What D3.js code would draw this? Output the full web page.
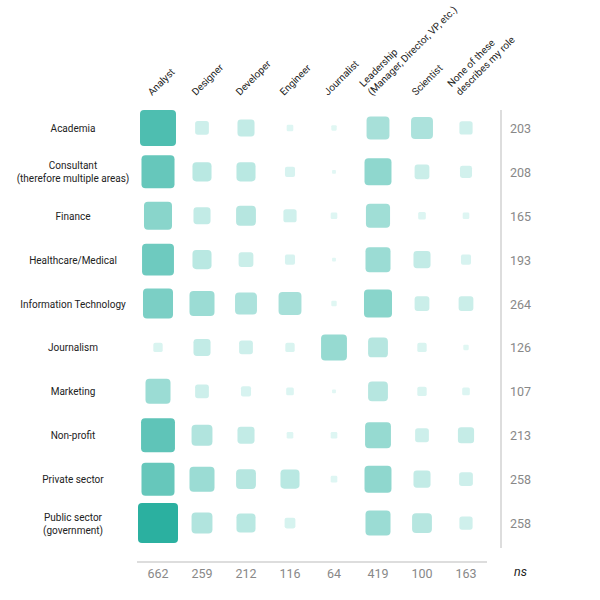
<!DOCTYPE html>
<html><head><meta charset="utf-8">
<script src="https://cdn.jsdelivr.net/npm/d3@7"></script>
<style>body{margin:0;background:#fff;font-family:Roboto,sans-serif}</style>
</head><body>
<svg width="600" height="600"></svg>
<script>
var sectors = ["Academia", "Consultant\n(therefore multiple areas)", "Finance", "Healthcare/Medical",
  "Information Technology", "Journalism", "Marketing", "Non-profit", "Private sector", "Public sector\n(government)"];
var roles = ["Analyst", "Designer", "Developer", "Engineer", "Journalist",
  "Leadership\n(Manager, Director, VP, etc.)", "Scientist", "None of these\ndescribes my role"];
var counts = [
  [89, 13, 20, 3, 2, 36, 33, 12],
  [75, 25, 25, 7, 1, 50, 15, 10],
  [54, 20, 27, 12, 3, 40, 4, 3],
  [70, 25, 15, 7, 1, 43, 20, 7],
  [62, 43, 33, 36, 2, 54, 15, 15],
  [6, 20, 13, 6, 46, 27, 6, 2],
  [43, 13, 7, 4, 1, 27, 6, 4],
  [79, 30, 20, 3, 3, 46, 13, 18],
  [75, 43, 27, 25, 3, 50, 20, 13],
  [110, 30, 25, 8, 0, 43, 27, 12]
];
var rowTotals = [203, 208, 165, 193, 264, 126, 107, 213, 258, 258];
var colTotals = [662, 259, 212, 116, 64, 419, 100, 163];

var svg = d3.select("svg");
var x = d3.scaleBand().domain(d3.range(roles.length)).range([136, 488]);
var y = d3.scaleBand().domain(d3.range(sectors.length)).range([106, 545]);
var size = d3.scaleSqrt().domain([0, 110]).range([0, 40]);
var color = d3.scaleLinear().domain([0, 110]).range(["#e3f8f5", "#2bb0a0"]);

var cells = [];
counts.forEach(function(r, i) { r.forEach(function(v, j) { cells.push({r: i, c: j, v: v}); }); });

svg.append("g").selectAll("rect").data(cells).enter().append("rect")
  .attr("x", function(d) { return x(d.c) + x.bandwidth() / 2 - size(d.v) / 2; })
  .attr("y", function(d) { return y(d.r) + y.bandwidth() / 2 - size(d.v) / 2; })
  .attr("width", function(d) { return size(d.v); })
  .attr("height", function(d) { return size(d.v); })
  .attr("rx", function(d) { return Math.min(4, size(d.v) / 5); })
  .attr("fill", function(d) { return color(d.v); });

// row labels
svg.append("g").selectAll("text").data(sectors).enter().append("text")
  .attr("text-anchor", "middle").attr("font-size", 10).attr("fill", "#222")
  .each(function(d, i) {
    var lines = d.split("\n");
    var t = d3.select(this);
    lines.forEach(function(l, k) {
      t.append("tspan").attr("x", 73)
        .attr("y", y(i) + y.bandwidth() / 2 + 4 + (k - (lines.length - 1) / 2) * 13)
        .text(l);
    });
  });

// column labels
svg.append("g").selectAll("text").data(roles).enter().append("text")
  .attr("font-size", 10).attr("fill", "#222")
  .attr("transform", function(d, i) {
    return "translate(" + (x(i) + x.bandwidth() / 2 - 6) + ",96) rotate(-45)";
  })
  .each(function(d) {
    var lines = d.split("\n");
    var t = d3.select(this);
    lines.forEach(function(l, k) {
      t.append("tspan").attr("x", 0).attr("y", (k - (lines.length - 1)) * 12).text(l);
    });
  });

// totals
svg.append("line").attr("x1", 501).attr("x2", 501).attr("y1", 110).attr("y2", 548)
  .attr("stroke", "#bbb");
svg.append("g").selectAll("text").data(rowTotals).enter().append("text")
  .attr("x", 510).attr("y", function(d, i) { return y(i) + y.bandwidth() / 2 + 5; })
  .attr("font-size", 12.5).attr("fill", "#888").text(function(d) { return d; });

svg.append("line").attr("x1", 137).attr("x2", 487).attr("y1", 562).attr("y2", 562)
  .attr("stroke", "#bbb");
svg.append("g").selectAll("text").data(colTotals).enter().append("text")
  .attr("x", function(d, i) { return x(i) + x.bandwidth() / 2; }).attr("y", 578)
  .attr("text-anchor", "middle").attr("font-size", 12.5).attr("fill", "#888")
  .text(function(d) { return d; });
svg.append("text").attr("x", 514).attr("y", 576).attr("font-size", 12.5)
  .attr("font-style", "italic").attr("fill", "#222").text("ns");
</script>
</body></html>
